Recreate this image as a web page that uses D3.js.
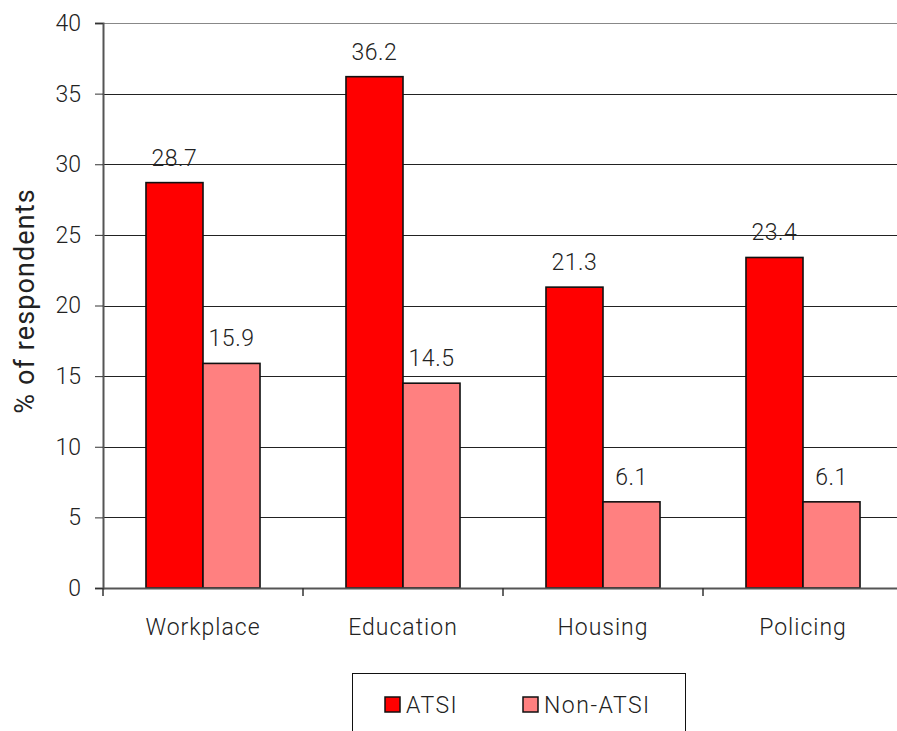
<!DOCTYPE html>
<html>
<head>
<meta charset="utf-8">
<script src="https://cdn.jsdelivr.net/npm/d3@7"></script>
<style>
  html, body { margin: 0; padding: 0; background: #fff; }
  svg text { font-family: Roboto, "DejaVu Sans", sans-serif; fill: #222; }
</style>
</head>
<body>
<svg id="chart" width="897" height="731"></svg>
<script>
const categories = ["Workplace", "Education", "Housing", "Policing"];
const seriesNames = ["ATSI", "Non-ATSI"];
const atsiValues = [28.7, 36.2, 21.3, 23.4];
const nonAtsiValues = [15.9, 14.5, 6.1, 6.1];
const yTicks = [0, 5, 10, 15, 20, 25, 30, 35, 40];
const seriesColors = ["#ff0000", "#ff8080"];

const svg = d3.select("#chart");
const plotLeft = 103, plotRight = 903, plotTop = 23, plotBottom = 588;

const x0 = d3.scaleBand().domain(categories).range([plotLeft, plotRight]);
const x1 = d3.scaleBand().domain(seriesNames).range([0, x0.bandwidth()]).paddingOuter(0.754);
const y = d3.scaleLinear().domain([0, 40]).range([plotBottom, plotTop]);
const color = d3.scaleOrdinal().domain(seriesNames).range(seriesColors);

// horizontal gridlines
svg.append("g").selectAll("line").data(yTicks.filter(t => t > 0)).join("line")
  .attr("x1", plotLeft).attr("x2", 897)
  .attr("y1", d => Math.round(y(d)) + 0.5).attr("y2", d => Math.round(y(d)) + 0.5)
  .attr("stroke", d => d === 40 ? "#888" : "#222").attr("stroke-width", 1);

// y axis
const yAxis = svg.append("g").attr("transform", `translate(${plotLeft},0)`)
  .call(d3.axisLeft(y).tickValues(yTicks).tickSize(8).tickPadding(14));
yAxis.select(".domain").attr("stroke", "#555").attr("stroke-width", 2);
yAxis.selectAll(".tick line").attr("stroke", "#333");
yAxis.selectAll(".tick text").attr("font-size", 23).attr("font-weight", 300)
  .style("font-family", "Roboto, sans-serif").attr("fill", "#222");

// bars
const rows = categories.map((c, i) => ({ cat: c, vals: [atsiValues[i], nonAtsiValues[i]] }));
const groups = svg.append("g").selectAll("g").data(rows).join("g")
  .attr("transform", d => `translate(${x0(d.cat)},0)`);
groups.selectAll("rect").data(d => d.vals.map((v, j) => ({ s: seriesNames[j], v }))).join("rect")
  .attr("x", d => x1(d.s)).attr("width", x1.bandwidth())
  .attr("y", d => y(d.v)).attr("height", d => y(0) - y(d.v))
  .attr("fill", d => color(d.s)).attr("stroke", "#111").attr("stroke-width", 1.6);
groups.selectAll("text").data(d => d.vals.map((v, j) => ({ s: seriesNames[j], v }))).join("text")
  .attr("x", d => x1(d.s) + x1.bandwidth() / 2).attr("y", d => y(d.v) - 17)
  .attr("text-anchor", "middle").attr("font-size", 23).attr("font-weight", 300)
  .attr("letter-spacing", 0.5)
  .text(d => d.v.toFixed(1));

// x axis
const xAxis = svg.append("g").attr("transform", `translate(0,${plotBottom})`)
  .call(d3.axisBottom(x0).tickSize(0).tickPadding(31));
xAxis.select(".domain").attr("stroke", "#555").attr("stroke-width", 2);
xAxis.selectAll(".tick text").attr("font-size", 23).attr("font-weight", 300)
  .attr("letter-spacing", 1).style("font-family", "Roboto, sans-serif").attr("fill", "#222");
// category boundary ticks
svg.append("g").selectAll("line").data(categories).join("line")
  .attr("x1", d => x0(d)).attr("x2", d => x0(d))
  .attr("y1", plotBottom).attr("y2", plotBottom + 8)
  .attr("stroke", "#333").attr("stroke-width", 1.5);

// y axis title
svg.append("text").attr("transform", "translate(34,301) rotate(-90)")
  .attr("text-anchor", "middle").attr("font-size", 27).attr("font-weight", 400)
  .attr("letter-spacing", 1.1)
  .text("% of respondents");

// legend
const legend = svg.append("g");
legend.append("rect").attr("x", 352.5).attr("y", 673.5).attr("width", 333).attr("height", 80)
  .attr("fill", "#fff").attr("stroke", "#111").attr("stroke-width", 1);
const legendX = [385, 523];
seriesNames.forEach((s, i) => {
  legend.append("rect").attr("x", legendX[i]).attr("y", 697).attr("width", 15).attr("height", 15)
    .attr("fill", color(s)).attr("stroke", "#111").attr("stroke-width", 1.5);
  legend.append("text").attr("x", legendX[i] + 21).attr("y", 713)
    .attr("font-size", 23).attr("font-weight", 300).attr("letter-spacing", 1.5)
    .text(s);
});
</script>
</body>
</html>
